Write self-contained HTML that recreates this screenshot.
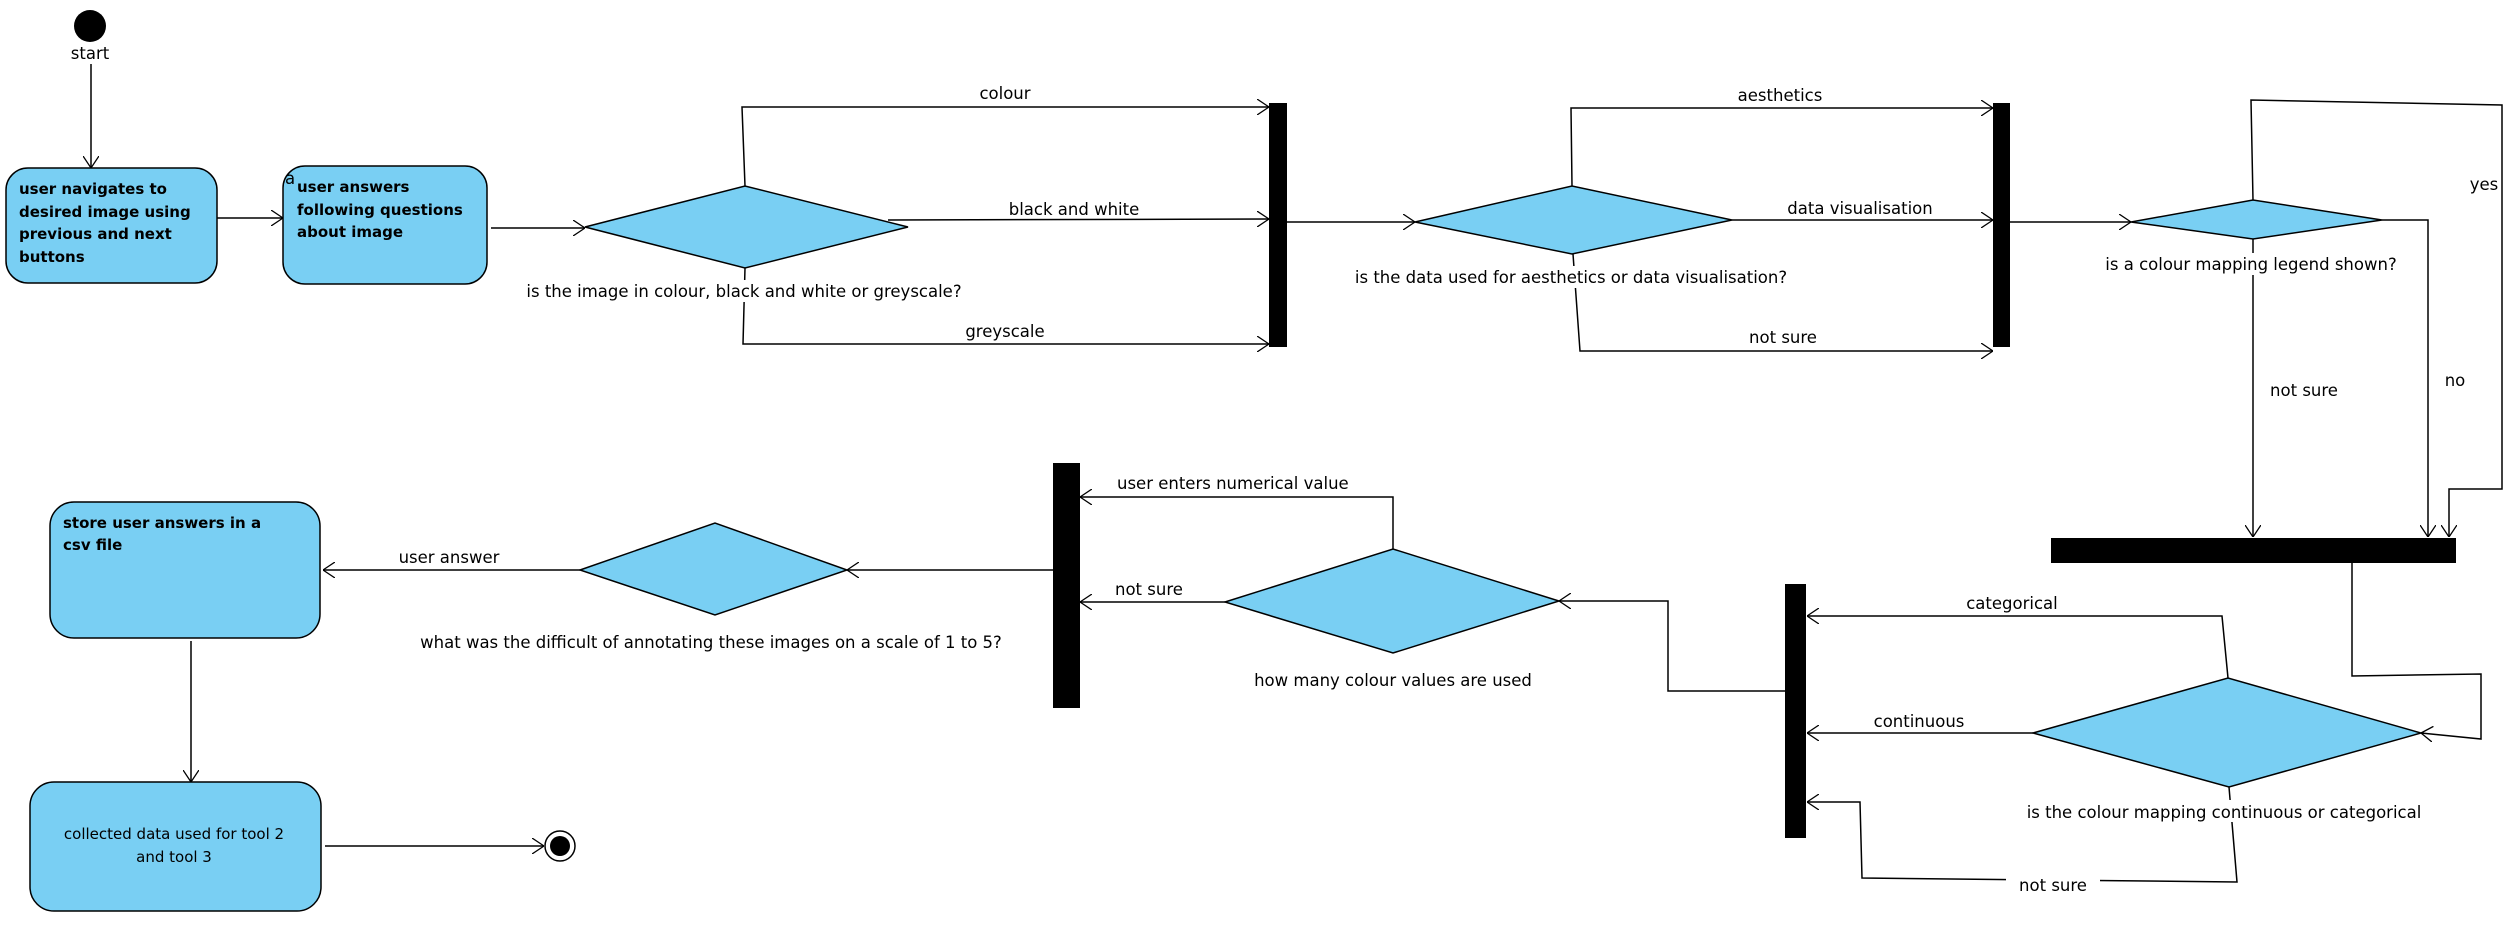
<!DOCTYPE html>
<html><head><meta charset="utf-8"><style>
html,body{margin:0;padding:0;background:#fff;}
svg{display:block;}
text{font-family:"DejaVu Sans","Liberation Sans",sans-serif;font-size:16.5px;fill:#000;}
.b{font-weight:bold;font-size:15px;}
.s{font-size:15px;}
.l{stroke:#000;stroke-width:1.5;fill:none;}
.n{fill:#79CFF3;stroke:#000;stroke-width:1.5;}
</style></head><body>
<svg width="2520" height="930" viewBox="0 0 2520 930" xmlns="http://www.w3.org/2000/svg">
<defs>
<marker id="a" viewBox="0 0 12 16" refX="12" refY="8" markerWidth="12" markerHeight="16" markerUnits="userSpaceOnUse" orient="auto">
<path d="M0,0 L12,8 L0,16" fill="none" stroke="#000" stroke-width="1.3"/>
</marker>
</defs>

<!-- start -->
<circle cx="90" cy="26" r="16" fill="#000"/>
<text x="90" y="59" text-anchor="middle">start</text>
<line class="l" x1="91" y1="64" x2="91" y2="168" marker-end="url(#a)"/>

<rect class="n" x="6" y="168" width="211" height="115" rx="22"/>
<text class="b" x="19" y="194">user navigates to</text>
<text class="b" x="19" y="217">desired image using</text>
<text class="b" x="19" y="239">previous and next</text>
<text class="b" x="19" y="262">buttons</text>
<line class="l" x1="217" y1="218" x2="283" y2="218" marker-end="url(#a)"/>

<rect class="n" x="283" y="166" width="204" height="118" rx="22"/>
<text x="285" y="184" font-size="16">a</text>
<text class="b" x="297" y="192">user answers</text>
<text class="b" x="297" y="215">following questions</text>
<text class="b" x="297" y="237">about image</text>
<line class="l" x1="491" y1="228" x2="585" y2="228" marker-end="url(#a)"/>

<!-- diamond 1 -->
<polygon class="n" points="585,227 745,186 908,227 745,268"/>
<polyline class="l" points="745,186 742,107 1269,107" marker-end="url(#a)"/>
<text x="1005" y="99" text-anchor="middle">colour</text>
<line class="l" x1="888" y1="220" x2="1269" y2="219" marker-end="url(#a)"/>
<rect x="990" y="200" width="168" height="18" fill="#fff"/>
<text x="1074" y="215" text-anchor="middle">black and white</text>
<polyline class="l" points="745,268 743,344 1269,344" marker-end="url(#a)"/>
<rect x="515" y="280" width="460" height="22" fill="#fff"/>
<text x="744" y="297" text-anchor="middle">is the image in colour, black and white or greyscale?</text>
<text x="1005" y="337" text-anchor="middle">greyscale</text>
<rect x="1269" y="103" width="18" height="244" fill="#000"/>

<!-- diamond 2 -->
<line class="l" x1="1287" y1="222" x2="1415" y2="222" marker-end="url(#a)"/>
<polygon class="n" points="1415,222 1572,186 1732,220 1572,254"/>
<polyline class="l" points="1572,186 1571,108 1993,108" marker-end="url(#a)"/>
<text x="1780" y="101" text-anchor="middle">aesthetics</text>
<line class="l" x1="1732" y1="220" x2="1993" y2="220" marker-end="url(#a)"/>
<text x="1860" y="214" text-anchor="middle">data visualisation</text>
<polyline class="l" points="1573,254 1580,351 1993,351" marker-end="url(#a)"/>
<rect x="1345" y="266" width="455" height="22" fill="#fff"/>
<text x="1571" y="283" text-anchor="middle">is the data used for aesthetics or data visualisation?</text>
<text x="1783" y="343" text-anchor="middle">not sure</text>
<rect x="1993" y="103" width="17" height="244" fill="#000"/>

<!-- diamond 3 -->
<line class="l" x1="2010" y1="222" x2="2131" y2="222" marker-end="url(#a)"/>
<polygon class="n" points="2131,222 2253,200 2382,220 2253,239"/>
<polyline class="l" points="2253,200 2251,100 2502,105 2502,489 2449,489 2449,537" marker-end="url(#a)"/>
<rect x="2470" y="174" width="30" height="20" fill="#fff"/>
<text x="2484" y="190" text-anchor="middle">yes</text>
<polyline class="l" points="2382,220 2428,220 2428,537" marker-end="url(#a)"/>
<text x="2455" y="386" text-anchor="middle">no</text>
<line class="l" x1="2253" y1="239" x2="2253" y2="537" marker-end="url(#a)"/>
<rect x="2100" y="253" width="306" height="22" fill="#fff"/>
<text x="2251" y="270" text-anchor="middle">is a colour mapping legend shown?</text>
<text x="2304" y="396" text-anchor="middle">not sure</text>
<rect x="2051" y="538" width="405" height="25" fill="#000"/>

<!-- diamond 4 -->
<polyline class="l" points="2352,563 2352,676 2481,674 2481,739 2421,733" marker-end="url(#a)"/>
<polygon class="n" points="2033,733 2228,678 2421,733 2229,787"/>
<polyline class="l" points="2228,678 2222,616 1807,616" marker-end="url(#a)"/>
<text x="2012" y="609" text-anchor="middle">categorical</text>
<line class="l" x1="2033" y1="733" x2="1807" y2="733" marker-end="url(#a)"/>
<text x="1919" y="727" text-anchor="middle">continuous</text>
<polyline class="l" points="2229,787 2237,882 1862,878 1860,802 1807,802" marker-end="url(#a)"/>
<rect x="2006" y="872" width="94" height="22" fill="#fff"/>
<text x="2053" y="891" text-anchor="middle">not sure</text>
<rect x="2000" y="800" width="450" height="22" fill="#fff"/>
<text x="2224" y="818" text-anchor="middle">is the colour mapping continuous or categorical</text>
<rect x="1785" y="584" width="21" height="254" fill="#000"/>

<!-- diamond 5 -->
<polyline class="l" points="1785,691 1668,691 1668,601 1559,601" marker-end="url(#a)"/>
<polygon class="n" points="1225,602 1393,549 1559,601 1393,653"/>
<polyline class="l" points="1393,549 1393,497 1080,497" marker-end="url(#a)"/>
<text x="1117" y="489">user enters numerical value</text>
<line class="l" x1="1225" y1="602" x2="1080" y2="602" marker-end="url(#a)"/>
<text x="1115" y="595">not sure</text>
<text x="1393" y="686" text-anchor="middle">how many colour values are used</text>
<rect x="1053" y="463" width="27" height="245" fill="#000"/>

<!-- diamond 6 -->
<line class="l" x1="1053" y1="570" x2="847" y2="570" marker-end="url(#a)"/>
<polygon class="n" points="580,570 715,523 847,570 715,615"/>
<line class="l" x1="580" y1="570" x2="323" y2="570" marker-end="url(#a)"/>
<text x="449" y="563" text-anchor="middle">user answer</text>
<text x="711" y="648" text-anchor="middle">what was the difficult of annotating these images on a scale of 1 to 5?</text>

<rect class="n" x="50" y="502" width="270" height="136" rx="24"/>
<text class="b" x="63" y="528">store user answers in a</text>
<text class="b" x="63" y="550">csv file</text>
<line class="l" x1="191" y1="641" x2="191" y2="782" marker-end="url(#a)"/>

<rect class="n" x="30" y="782" width="291" height="129" rx="24"/>
<text class="s" x="174" y="839" text-anchor="middle">collected data used for tool 2</text>
<text class="s" x="174" y="862" text-anchor="middle">and tool 3</text>
<line class="l" x1="325" y1="846" x2="544" y2="846" marker-end="url(#a)"/>
<circle cx="560" cy="846" r="15" fill="#fff" stroke="#000" stroke-width="1.5"/>
<circle cx="560" cy="846" r="10" fill="#000"/>
</svg>
</body></html>
